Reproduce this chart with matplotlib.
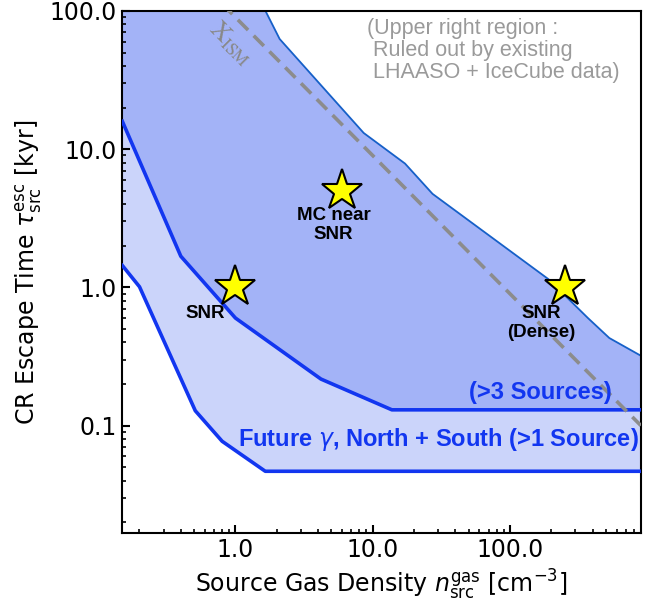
import numpy as np
import matplotlib
matplotlib.use('Agg')
import matplotlib.pyplot as plt
from matplotlib.ticker import FormatStrFormatter, LogLocator, NullFormatter

# upper edge of the allowed region (above it: excluded by data)
n_upper = [0.15, 1.6, 2.1, 8.6, 17.2, 27.3, 190.0, 370.0, 530.0, 900.0]
tau_upper = [107.0, 107.0, 62.7, 13.1, 7.87, 4.75, 1.15, 0.60, 0.43, 0.32]

# lower edge reachable with >3 sources
n_3src = [0.15, 0.40, 1.0, 4.2, 13.8, 900.0]
tau_3src = [15.9, 1.68, 0.60, 0.217, 0.130, 0.130]

# lower edge reachable with >1 source (north + south)
n_1src = [0.15, 0.20, 0.51, 0.80, 1.65, 900.0]
tau_1src = [1.44, 1.01, 0.128, 0.077, 0.0467, 0.0467]

# candidate sources
star_n = [1.0, 6.0, 250.0]
star_tau = [1.0, 5.0, 1.0]
star_names = ['SNR', 'MC near\nSNR', 'SNR\n(Dense)']

# X_ISM reference line: tau = 90 / n
ism_n = np.array([0.8, 900.0])
ism_tau = 90.0 / ism_n

blue = '#1236f0'
anno_font = 'Liberation Sans'

fig = plt.figure(figsize=(6.57, 6.03), dpi=100)
ax = fig.add_axes([0.185, 0.1161, 0.7905, 0.8657])

# light band: between the >1 and >3 source curves
ax.fill(np.concatenate([n_3src, n_1src[::-1]]),
        np.concatenate([tau_3src, tau_1src[::-1]]),
        color='#cbd4fa', lw=0, zorder=1)
# darker band: between the >3 source curve and the excluded region
ax.fill(np.concatenate([n_upper, n_3src[::-1]]),
        np.concatenate([tau_upper, tau_3src[::-1]]),
        color='#a3b3f7', lw=0, zorder=1)

ax.plot(n_upper, tau_upper, color='#1660c8', lw=1.3, zorder=2)
ax.plot(n_3src, tau_3src, color=blue, lw=2.6, zorder=3)
ax.plot(n_1src, tau_1src, color=blue, lw=2.6, zorder=3)

ax.plot(ism_n, ism_tau, color='#8c8c8c', lw=2.6, ls=(0, (4, 2.2)), zorder=4)
ax.text(0.93, 58.0, r'$\mathrm{X}_{\mathrm{ISM}}$', color='#888888', fontsize=18,
        rotation=-45, ha='center', va='center', math_fontfamily='stix', zorder=4)

ax.plot(star_n, star_tau, ls='none', marker='*', ms=31, mfc='#ffff00',
        mec='black', mew=1.5, zorder=5)

label_pos = [(0.60, 0.65), (5.18, 2.81), (170.0, 0.55)]
for name, (lx, ly) in zip(star_names, label_pos):
    ax.text(lx, ly, name, fontsize=13.5, fontweight='bold', family=anno_font,
            ha='center', va='center', linespacing=1.15, zorder=6)

ax.text(0.944, 0.270, '(>3 Sources)', transform=ax.transAxes, color=blue,
        fontsize=17, fontweight='bold', family=anno_font, ha='right', va='center', zorder=6)
ax.text(0.9956, 0.1787, r'Future $\gamma$, North + South (>1 Source)', transform=ax.transAxes,
        color=blue, fontsize=17, fontweight='bold', family=anno_font,
        ha='right', va='center', zorder=6)

ax.text(0.4735, 0.9246, '(Upper right region :\n Ruled out by existing\n LHAASO + IceCube data)',
        transform=ax.transAxes, color='#9a9a9a', fontsize=15.5, family=anno_font,
        ha='left', va='center', linespacing=1.05, zorder=6)

ax.set_xscale('log')
ax.set_yscale('log')
ax.set_xlim(0.148, 900)
ax.set_ylim(0.0167, 100)

ax.set_xticks([1.0, 10.0, 100.0])
ax.set_yticks([0.1, 1.0, 10.0, 100.0])
ax.xaxis.set_major_formatter(FormatStrFormatter('%.1f'))
ax.yaxis.set_major_formatter(FormatStrFormatter('%.1f'))
ax.xaxis.set_minor_locator(LogLocator(base=10, subs=np.arange(2, 10), numticks=20))
ax.yaxis.set_minor_locator(LogLocator(base=10, subs=np.arange(2, 10), numticks=20))
ax.xaxis.set_minor_formatter(NullFormatter())
ax.yaxis.set_minor_formatter(NullFormatter())
ax.tick_params(which='both', direction='in', top=False, right=False, labelsize=17)
ax.tick_params(which='major', length=6, width=1.5)
ax.tick_params(which='minor', length=3, width=1.2)
for sp in ax.spines.values():
    sp.set_linewidth(1.5)

ax.set_xlabel(r'Source Gas Density $n_{\rm src}^{\rm gas}$ [cm$^{-3}$]', fontsize=17)
ax.set_ylabel(r'CR Escape Time $\tau_{\rm src}^{\rm esc}$ [kyr]', fontsize=17)

fig.savefig('out.png', dpi=100)
